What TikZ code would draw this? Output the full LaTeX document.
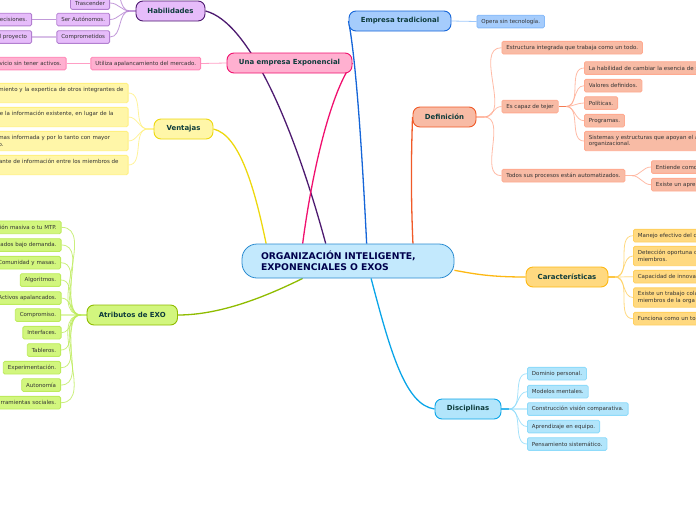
\documentclass[tikz,border=0pt]{standalone}
\usepackage{fontspec}
\setmainfont{DejaVu Sans}
\usetikzlibrary{backgrounds}
\definecolor{central}{HTML}{c3e9fd}
\definecolor{centralline}{HTML}{2a8bd0}
\definecolor{hab}{HTML}{e6bcfa}
\definecolor{habline}{HTML}{b27fd0}
\definecolor{habdark}{HTML}{4d1a70}
\definecolor{exp}{HTML}{ffb0d0}
\definecolor{expline}{HTML}{ff86b6}
\definecolor{expdark}{HTML}{f0106e}
\definecolor{trad}{HTML}{a5ccfc}
\definecolor{tradline}{HTML}{86baf9}
\definecolor{traddark}{HTML}{1565d8}
\definecolor{defi}{HTML}{f8bba5}
\definecolor{defiline}{HTML}{ffaa90}
\definecolor{defidark}{HTML}{f05a28}
\definecolor{vent}{HTML}{fff6a8}
\definecolor{ventline}{HTML}{fff080}
\definecolor{ventdark}{HTML}{edd80e}
\definecolor{car}{HTML}{ffd980}
\definecolor{carline}{HTML}{ffd060}
\definecolor{cardark}{HTML}{fdb813}
\definecolor{atr}{HTML}{d2f67e}
\definecolor{atrline}{HTML}{bdeb5c}
\definecolor{atrdark}{HTML}{8fbc00}
\definecolor{dis}{HTML}{b2e5fb}
\definecolor{disline}{HTML}{8fdbfa}
\definecolor{disdark}{HTML}{0aa5e8}
\definecolor{topictext}{HTML}{0d3b3b}
\definecolor{leaftext}{HTML}{333333}
\tikzset{
  topic/.style={draw=#1dark, fill=#1, line width=0.9pt, rounded corners=7pt, minimum height=20pt,
    inner sep=0pt, text=topictext, font=\fontsize{6.95}{8}\selectfont\bfseries},
  leaf/.style={draw=#1line, fill=#1, line width=0.8pt, rounded corners=1.5pt, minimum height=12.7pt,
    inner xsep=4.5pt, inner ysep=1pt, text=leaftext, align=left, font=\fontsize{5.5}{6.7}\selectfont},
  cutleft/.style={anchor=east, text width=#1, align=right},
  cutright/.style={anchor=west, text width=#1, align=left},
  stem/.style={#1dark, line width=1.3pt},
  twig/.style={#1line, line width=0.8pt, opacity=0.8}
}

\begin{document}
\begin{tikzpicture}[x=1pt, y=-1pt]
  \useasboundingbox (0,0) rectangle (696,520);

  \node[draw=centralline, fill=central, line width=0.8pt, rounded corners=15pt, minimum width=212pt,
    minimum height=34pt, inner sep=0pt, text width=174pt, align=left, text=blue!30!black,
    font=\fontsize{9.25}{11}\selectfont\bfseries] (org) at (348,261)
    {ORGANIZACIÓN INTELIGENTE,\\EXPONENCIALES O EXOS};

  \node[topic=hab, minimum width=69pt] (habil) at (170.5,11) {Habilidades};
  \node[topic=exp, minimum width=125pt] (expo) at (289.5,63) {Una empresa Exponencial};
  \node[topic=trad, minimum width=102pt] (tradi) at (400,21) {Empresa tradicional};
  \node[topic=defi, minimum width=63pt] (defin) at (444.5,117) {Definición};
  \node[topic=vent, minimum width=59pt] (venta) at (183.5,129) {Ventajas};
  \node[topic=car, minimum width=82pt] (carac) at (567,277) {Características};
  \node[topic=atr, minimum width=90.5pt] (atrib) at (132.25,315) {Atributos de EXO};
  \node[topic=dis, minimum width=66pt] (disci) at (468,409) {Disciplinas};

  % habilidades
  \node[leaf=hab, anchor=east] (trasc) at (110,3) {Trascender};
  \node[leaf=hab, anchor=east] (auton) at (110,19.5) {Ser Autónomos.};
  \node[leaf=hab, anchor=east] (compr) at (110,37) {Comprometidos};
  \node[leaf=hab, cutleft=60pt] (decis) at (32,19.5) {ecisiones.};
  \node[leaf=hab, cutleft=60pt] (proye) at (32,37) {l proyecto};
  \coordinate (habiltop) at (110,-14.5);
  \coordinate (habilfan) at (130,11);

  % exponencial
  \node[leaf=exp, anchor=east] (apala) at (201,63.5) {Utiliza apalancamiento del mercado.};
  \node[leaf=exp, cutleft=120pt] (activ) at (66.5,63.5) {vicio sin tener activos.};

  % tradicional
  \node[leaf=trad, anchor=west] (opera) at (476.5,21.5) {Opera sin tecnología.};

  % ventajas
  \node[leaf=vent, cutleft=200pt, minimum height=19.3pt] (vent1) at (128.5,93) {miento y la expertica de otros integrantes de\\\mbox{}};
  \node[leaf=vent, cutleft=200pt, minimum height=19.3pt] (vent2) at (128.5,117) {e la información existente, en lugar de la\rule{10pt}{0pt}\\\mbox{}};
  \node[leaf=vent, cutleft=200pt, minimum height=19.3pt] (vent3) at (128.5,141) {mas informada y por lo tanto con mayor\rule{13.5pt}{0pt}\\o.\rule{120pt}{0pt}};
  \node[leaf=vent, cutleft=200pt, minimum height=19.3pt] (vent4) at (128.5,165) {ante de información entre los miembros de\rule{5pt}{0pt}\\\mbox{}};
  \coordinate (ventfan) at (148,129);

  % atributos
  \node[leaf=atr, cutleft=90pt] (atr1) at (61.5,227.3) {ión masiva o tu MTP.};
  \node[leaf=atr, cutleft=90pt] (atr2) at (61.5,245) {ados bajo demanda.};
  \node[leaf=atr, cutleft=90pt] (atr3) at (61,262.7) {Comunidad y masas.};
  \node[leaf=atr, anchor=east] (atr4) at (61,280) {Algoritmos.};
  \node[leaf=atr, cutleft=90pt] (atr5) at (61.5,298) {Activos apalancados.};
  \node[leaf=atr, anchor=east] (atr6) at (61,315) {Compromiso.};
  \node[leaf=atr, anchor=east] (atr7) at (61.5,332.7) {Interfaces.};
  \node[leaf=atr, anchor=east] (atr8) at (61,350) {Tableros.};
  \node[leaf=atr, anchor=east] (atr9) at (61,367.7) {Experimentación.};
  \node[leaf=atr, anchor=east] (atr10) at (61,385) {Autonomía};
  \node[leaf=atr, cutleft=90pt] (atr11) at (61,402.7) {rramientas sociales.};
  \coordinate (atribfan) at (81,315);

  % definicion
  \node[leaf=defi, anchor=west] (def1) at (501.5,47.7) {Estructura integrada que trabaja como un todo.};
  \node[leaf=defi, anchor=west] (def2) at (501.5,106.5) {Es capaz de tejer};
  \node[leaf=defi, anchor=west] (def3) at (501.5,175.7) {Todos sus procesos están automatizados.};
  \node[leaf=defi, cutright=150pt] (tej1) at (584,68) {La habilidad de cambiar la esencia de s};
  \node[leaf=defi, anchor=west] (tej2) at (584,85.7) {Valores definidos.};
  \node[leaf=defi, anchor=west] (tej3) at (584,103) {Políticas.};
  \node[leaf=defi, anchor=west] (tej4) at (584,120.7) {Programas.};
  \node[leaf=defi, cutright=150pt, minimum height=19.3pt] (tej5) at (584,141) {Sistemas y estructuras que apoyan el a\\organizacional.};
  \node[leaf=defi, cutright=80pt] (pro1) at (651,167) {Entiende como};
  \node[leaf=defi, cutright=80pt] (pro2) at (651,184.7) {Existe un apre};
  \coordinate (deffan) at (484,117);
  \coordinate (tejfan) at (566,106.5);
  \coordinate (profan) at (632,175.7);

  % caracteristicas
  \node[leaf=car, cutright=100pt] (car1) at (633,235.7) {Manejo efectivo del c};
  \node[leaf=car, cutright=100pt, minimum height=19.3pt] (car2) at (633,256) {Detección oportuna d\\miembros.};
  \node[leaf=car, cutright=100pt] (car3) at (633,276.7) {Capacidad de innova};
  \node[leaf=car, cutright=100pt, minimum height=19.3pt] (car4) at (633,297.5) {Existe un trabajo cola\\miembros de la orga};
  \node[leaf=car, cutright=100pt] (car5) at (633,318.7) {Funciona como un to};
  \coordinate (carfan) at (615,277);

  % disciplinas
  \node[leaf=dis, anchor=west] (dis1) at (527,373.7) {Dominio personal.};
  \node[leaf=dis, anchor=west] (dis2) at (527,391.7) {Modelos mentales.};
  \node[leaf=dis, anchor=west] (dis3) at (527,409) {Construcción visión comparativa.};
  \node[leaf=dis, anchor=west] (dis4) at (527,426.5) {Aprendizaje en equipo.};
  \node[leaf=dis, anchor=west] (dis5) at (527,444) {Pensamiento sistemático.};
  \coordinate (disfan) at (509,409);

  \begin{scope}[on background layer]
    \draw[stem=hab] (habil.east) .. controls (250,22) and (295,130) .. (org.142);
    \draw[stem=exp] (expo.east) .. controls (332,90) and (313,165) .. (org.159);
    \draw[stem=trad] (tradi.west) .. controls (356,60) and (362,150) .. (org.43);
    \draw[stem=defi] (defin.west) .. controls (411,160) and (411,200) .. (org.15);
    \draw[stem=vent] (venta.east) .. controls (240,135) and (255,190) .. (org.168);
    \draw[stem=atr] (atrib.east) .. controls (220,315) and (265,297) .. (org.201);
    \draw[stem=car] (carac.west) .. controls (490,277) and (475,274) .. (org.355);
    \draw[stem=dis] (disci.west) .. controls (405,405) and (390,350) .. (org.323);

    \draw[twig=hab, line width=1.2pt] (habil.west) -- (habilfan);
    \draw[twig=hab] (habilfan) to[out=180,in=0] (habiltop);
    \draw[twig=hab] (habilfan) to[out=180,in=0] (trasc.east);
    \draw[twig=hab] (habilfan) to[out=180,in=0] (auton.east);
    \draw[twig=hab] (habilfan) to[out=180,in=0] (compr.east);
    \draw[twig=hab] (auton.west) -- (decis.east);
    \draw[twig=hab, line width=1.2pt, opacity=0.5] (compr.west) -- (proye.east);

    \draw[twig=exp] (expo.west) -- (apala.east);
    \draw[twig=exp] (apala.west) -- (activ.east);

    \draw[twig=trad] (tradi.east) -- (opera.west);

    \draw[twig=vent, line width=1.2pt] (venta.west) -- (ventfan);
    \draw[twig=vent] (ventfan) to[out=180,in=0] (vent1.east);
    \draw[twig=vent] (ventfan) to[out=180,in=0] (vent2.east);
    \draw[twig=vent] (ventfan) to[out=180,in=0] (vent3.east);
    \draw[twig=vent] (ventfan) to[out=180,in=0] (vent4.east);

    \draw[twig=atr, line width=1.2pt] (atrib.west) -- (atribfan);
    \draw[twig=atr] (atribfan) to[out=180,in=0] (atr1.east);
    \draw[twig=atr] (atribfan) to[out=180,in=0] (atr2.east);
    \draw[twig=atr] (atribfan) to[out=180,in=0] (atr3.east);
    \draw[twig=atr] (atribfan) to[out=180,in=0] (atr4.east);
    \draw[twig=atr] (atribfan) to[out=180,in=0] (atr5.east);
    \draw[twig=atr, opacity=0.5, line width=1.2pt] (atribfan) -- (atr6.east);
    \draw[twig=atr] (atribfan) to[out=180,in=0] (atr7.east);
    \draw[twig=atr] (atribfan) to[out=180,in=0] (atr8.east);
    \draw[twig=atr] (atribfan) to[out=180,in=0] (atr9.east);
    \draw[twig=atr] (atribfan) to[out=180,in=0] (atr10.east);
    \draw[twig=atr] (atribfan) to[out=180,in=0] (atr11.east);

    \draw[twig=defi, line width=1.2pt] (defin.east) -- (deffan);
    \draw[twig=defi] (deffan) to[out=0,in=180] (def1.west);
    \draw[twig=defi] (deffan) to[out=0,in=180] (def2.west);
    \draw[twig=defi] (deffan) to[out=0,in=180] (def3.west);
    \draw[twig=defi, line width=1.2pt, defidark] (def2.east) -- (tejfan);
    \draw[twig=defi] (tejfan) to[out=0,in=180] (tej1.west);
    \draw[twig=defi] (tejfan) to[out=0,in=180] (tej2.west);
    \draw[twig=defi] (tejfan) to[out=0,in=180] (tej3.west);
    \draw[twig=defi] (tejfan) to[out=0,in=180] (tej4.west);
    \draw[twig=defi] (tejfan) to[out=0,in=180] (tej5.west);
    \draw[twig=defi, line width=1.2pt] (def3.east) -- (profan);
    \draw[twig=defi] (profan) to[out=0,in=180] (pro1.west);
    \draw[twig=defi] (profan) to[out=0,in=180] (pro2.west);

    \draw[twig=car, cardark, line width=1.2pt] (carac.east) -- (carfan);
    \draw[twig=car] (carfan) to[out=0,in=180] (car1.west);
    \draw[twig=car] (carfan) to[out=0,in=180] (car2.west);
    \draw[twig=car, opacity=0.5, line width=1.2pt] (carfan) -- (car3.west);
    \draw[twig=car] (carfan) to[out=0,in=180] (car4.west);
    \draw[twig=car] (carfan) to[out=0,in=180] (car5.west);

    \draw[twig=dis, disdark, line width=1.2pt] (disci.east) -- (disfan);
    \draw[twig=dis] (disfan) to[out=0,in=180] (dis1.west);
    \draw[twig=dis] (disfan) to[out=0,in=180] (dis2.west);
    \draw[twig=dis, opacity=0.5, line width=1.2pt] (disfan) -- (dis3.west);
    \draw[twig=dis] (disfan) to[out=0,in=180] (dis4.west);
    \draw[twig=dis] (disfan) to[out=0,in=180] (dis5.west);
  \end{scope}
\end{tikzpicture}
\end{document}
